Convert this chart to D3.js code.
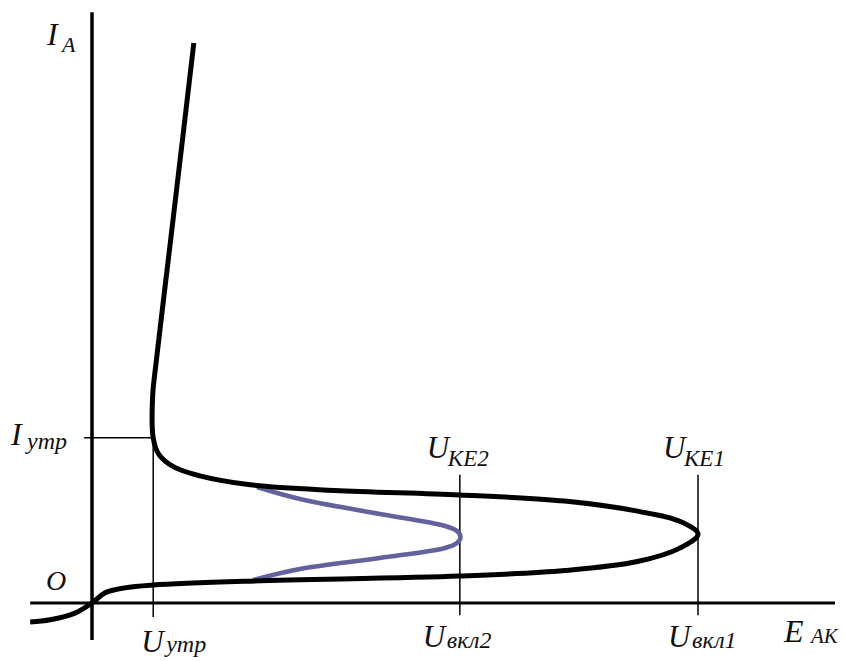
<!DOCTYPE html>
<html>
<head>
<meta charset="utf-8">
<script src="https://cdn.jsdelivr.net/npm/d3@7"></script>
<style>
  body { margin: 0; background: #fff; }
  text { font-family: "Liberation Serif", "Times New Roman", serif; font-style: italic; fill: #111; }
</style>
</head>
<body>
<div id="plot"></div>
<script>
// curve points [E_AK, I_A] in arbitrary units (U_vkl1 = 100)
const mainCurve = [
  [-10.2, -3.4], [-6.9, -3.0], [-2.8, -1.8], [0, 0], [2.1, 1.8], [5.4, 2.7],
  [10.1, 3.2], [26.1, 3.9], [60.7, 4.8], [78, 5.8], [90, 7.4], [97, 9.8],
  [100, 12.3],
  [97, 14.6], [90, 16.4], [78, 18.2], [60.7, 19.3], [40, 20.1], [26.1, 21.1],
  [17.8, 22.7], [13.5, 24.3], [11, 26.6], [10.1, 29.5], [10.0, 36.8],
  [10.64, 43.5], [12.72, 62.5], [14.77, 81.25], [16.8, 100]
];
const blueCurve = [
  [27.23, 20.71], [34.32, 18.57], [47.52, 15.89], [58.25, 13.75], [60.23, 12.86],
  [60.81, 11.79],
  [60.23, 10.71], [58.25, 9.82], [47.52, 8.04], [34.32, 6.07], [26.57, 4.11]
];
const uUtr = 10.1, uVkl2 = 60.7, uVkl1 = 100, iUtr = 29.5;
const xAxisExtent = [-10.2, 122.6];
const yAxisExtent = [-6.6, 105.5];

const width = 845, height = 661;

const svg = d3.select("#plot")
    .append("svg")
    .attr("width", width)
    .attr("height", height);

// x: 0 at origin, 100 at U_vkl1
const x = d3.scaleLinear().domain([0, 100]).range([92, 698]);
const y = d3.scaleLinear().domain([0, 100]).range([603, 43]);

// axes
svg.append("line")
    .attr("x1", x(xAxisExtent[0])).attr("x2", x(xAxisExtent[1]))
    .attr("y1", y(0)).attr("y2", y(0))
    .attr("stroke", "#000").attr("stroke-width", 3);
svg.append("line")
    .attr("x1", x(0)).attr("x2", x(0))
    .attr("y1", y(yAxisExtent[0])).attr("y2", y(yAxisExtent[1]))
    .attr("stroke", "#000").attr("stroke-width", 3.5);

// thin reference lines
const thin = [
  [[-1.3, iUtr], [uUtr, iUtr]],
  [[uUtr, iUtr], [uUtr, -2.5]],
  [[uVkl2, 22.9], [uVkl2, -2.2]],
  [[uVkl1, 22.9], [uVkl1, -2.2]]
];
svg.append("g").selectAll("line")
    .data(thin)
    .enter()
    .append("line")
    .attr("x1", d => x(d[0][0])).attr("y1", d => y(d[0][1]))
    .attr("x2", d => x(d[1][0])).attr("y2", d => y(d[1][1]))
    .attr("stroke", "#000").attr("stroke-width", 1.5);

const line = d3.line()
    .x(d => x(d[0]))
    .y(d => y(d[1]))
    .curve(d3.curveCatmullRom.alpha(0.5));

svg.append("path")
    .datum(blueCurve)
    .attr("fill", "none")
    .attr("stroke", "#62629e")
    .attr("stroke-width", 4.5)
    .attr("d", line);

svg.append("path")
    .datum(mainCurve)
    .attr("fill", "none")
    .attr("stroke", "#000")
    .attr("stroke-width", 5)
    .attr("stroke-linejoin", "round")
    .attr("d", line);

// labels: main letter + subscript
function label(px, py, main, sub, subDx, subDy, size, subSize) {
    const g = svg.append("g");
    g.append("text")
        .attr("x", px).attr("y", py)
        .attr("font-size", size)
        .text(main);
    if (sub) {
        g.append("text")
            .attr("x", px + subDx).attr("y", py + subDy)
            .attr("font-size", subSize)
            .text(sub);
    }
}

label(47, 45, "I", "A", 15, 7, 32, 22);
label(11, 445, "I", "утр", 16, 4, 32, 24);
label(46, 590, "O", null, 0, 0, 28, 0);
label(x(uUtr) - 12, 652, "U", "утр", 25, 0, 31, 24);
label(x(uVkl2) - 37, 647, "U", "вкл2", 24, 1, 31, 24);
label(x(uVkl1) - 30, 647, "U", "вкл1", 24, 1, 31, 24);
label(x(uVkl2) - 33, 458, "U", "KE2", 21, 8, 31, 23);
label(x(uVkl1) - 35, 458, "U", "KE1", 21, 8, 31, 23);
label(784, 642, "E", "AK", 27, 1, 32, 21);
</script>
</body>
</html>
